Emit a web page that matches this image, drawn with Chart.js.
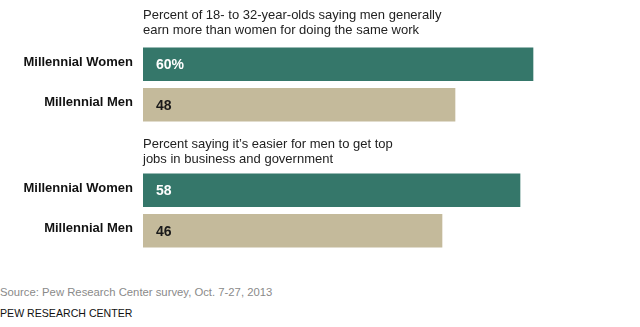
<!DOCTYPE html>
<html><head><meta charset="utf-8">
<script src="https://cdn.jsdelivr.net/npm/chart.js@4/dist/chart.umd.min.js"></script>
<style>
html,body{margin:0;padding:0;background:#fff;width:640px;height:327px;overflow:hidden;font-family:"Liberation Sans",Arial,sans-serif;}
.c{position:absolute;left:0;width:640px;height:128px;}
.c canvas{display:block;}
#src{position:absolute;left:0;top:286px;font-size:11.3px;color:#8a8a8a;white-space:nowrap;}
#pew{position:absolute;left:0;top:307px;font-size:10.6px;color:#111;white-space:nowrap;}
</style></head><body>
<div class="c" style="top:0"><canvas id="c1"></canvas></div>
<div class="c" style="top:128px"><canvas id="c2"></canvas></div>
<div id="src">Source: Pew Research Center survey, Oct. 7-27, 2013</div>
<div id="pew">PEW RESEARCH CENTER</div>
<script>
const categories = ["Millennial Women", "Millennial Men"];
const titles1 = ["Percent of 18- to 32-year-olds saying men generally", "earn more than women for doing the same work"];
const titles2 = ["Percent saying it\u2019s easier for men to get top", "jobs in business and government"];
const earnMore = [60, 48];
const topJobs = [58, 46];
const valueLabels1 = ["60%", "48"];
const valueLabels2 = ["58", "46"];
const colors = ["#35776a", "#c4ba9b"];
const labelColors = ["#ffffff", "#1a1a1a"];

function makeChart(id, values, labels, titleLines, padTop, padBottom, titleBase) {
  const plugin = {
    id: 'extras' + id,
    afterDatasetsDraw(chart) {
      const ctx = chart.ctx;
      const meta = chart.getDatasetMeta(0);
      ctx.save();
      ctx.font = 'bold 14px "Liberation Sans", Arial, sans-serif';
      ctx.textBaseline = 'middle';
      ctx.textAlign = 'left';
      meta.data.forEach((bar, i) => {
        ctx.fillStyle = labelColors[i];
        ctx.fillText(labels[i], bar.base + 13, bar.y + 1);
      });
      ctx.font = '13px "Liberation Sans", Arial, sans-serif';
      ctx.fillStyle = '#222';
      ctx.textBaseline = 'alphabetic';
      titleLines.forEach((t, i) => ctx.fillText(t, chart.chartArea.left, titleBase + i * 15));
      ctx.restore();
    }
  };
  return new Chart(document.getElementById(id), {
    type: 'bar',
    data: { labels: categories, datasets: [{ data: values, backgroundColor: colors, barThickness: 33, borderWidth: 0 }] },
    options: {
      indexAxis: 'y', responsive: true, maintainAspectRatio: false, animation: false,
      layout: { padding: { top: padTop, bottom: padBottom, right: 42, left: 0 } },
      plugins: { legend: { display: false }, tooltip: { enabled: false } },
      scales: {
        x: { display: false, min: 0, max: 70 },
        y: {
          afterFit(scale) { scale.width = 143; scale.paddingTop = 0; scale.paddingBottom = 0; },
          grid: { display: false, drawTicks: false }, border: { display: false },
          ticks: { padding: 10, labelOffset: -2, color: '#111', font: { family: '"Liberation Sans", Arial, sans-serif', size: 13, weight: 'bold' } }
        }
      }
    },
    plugins: [plugin]
  });
}
makeChart('c1', earnMore, valueLabels1, titles1, 44, 3, 19);
makeChart('c2', topJobs, valueLabels2, titles2, 42, 5, 20);
</script>
</body></html>
